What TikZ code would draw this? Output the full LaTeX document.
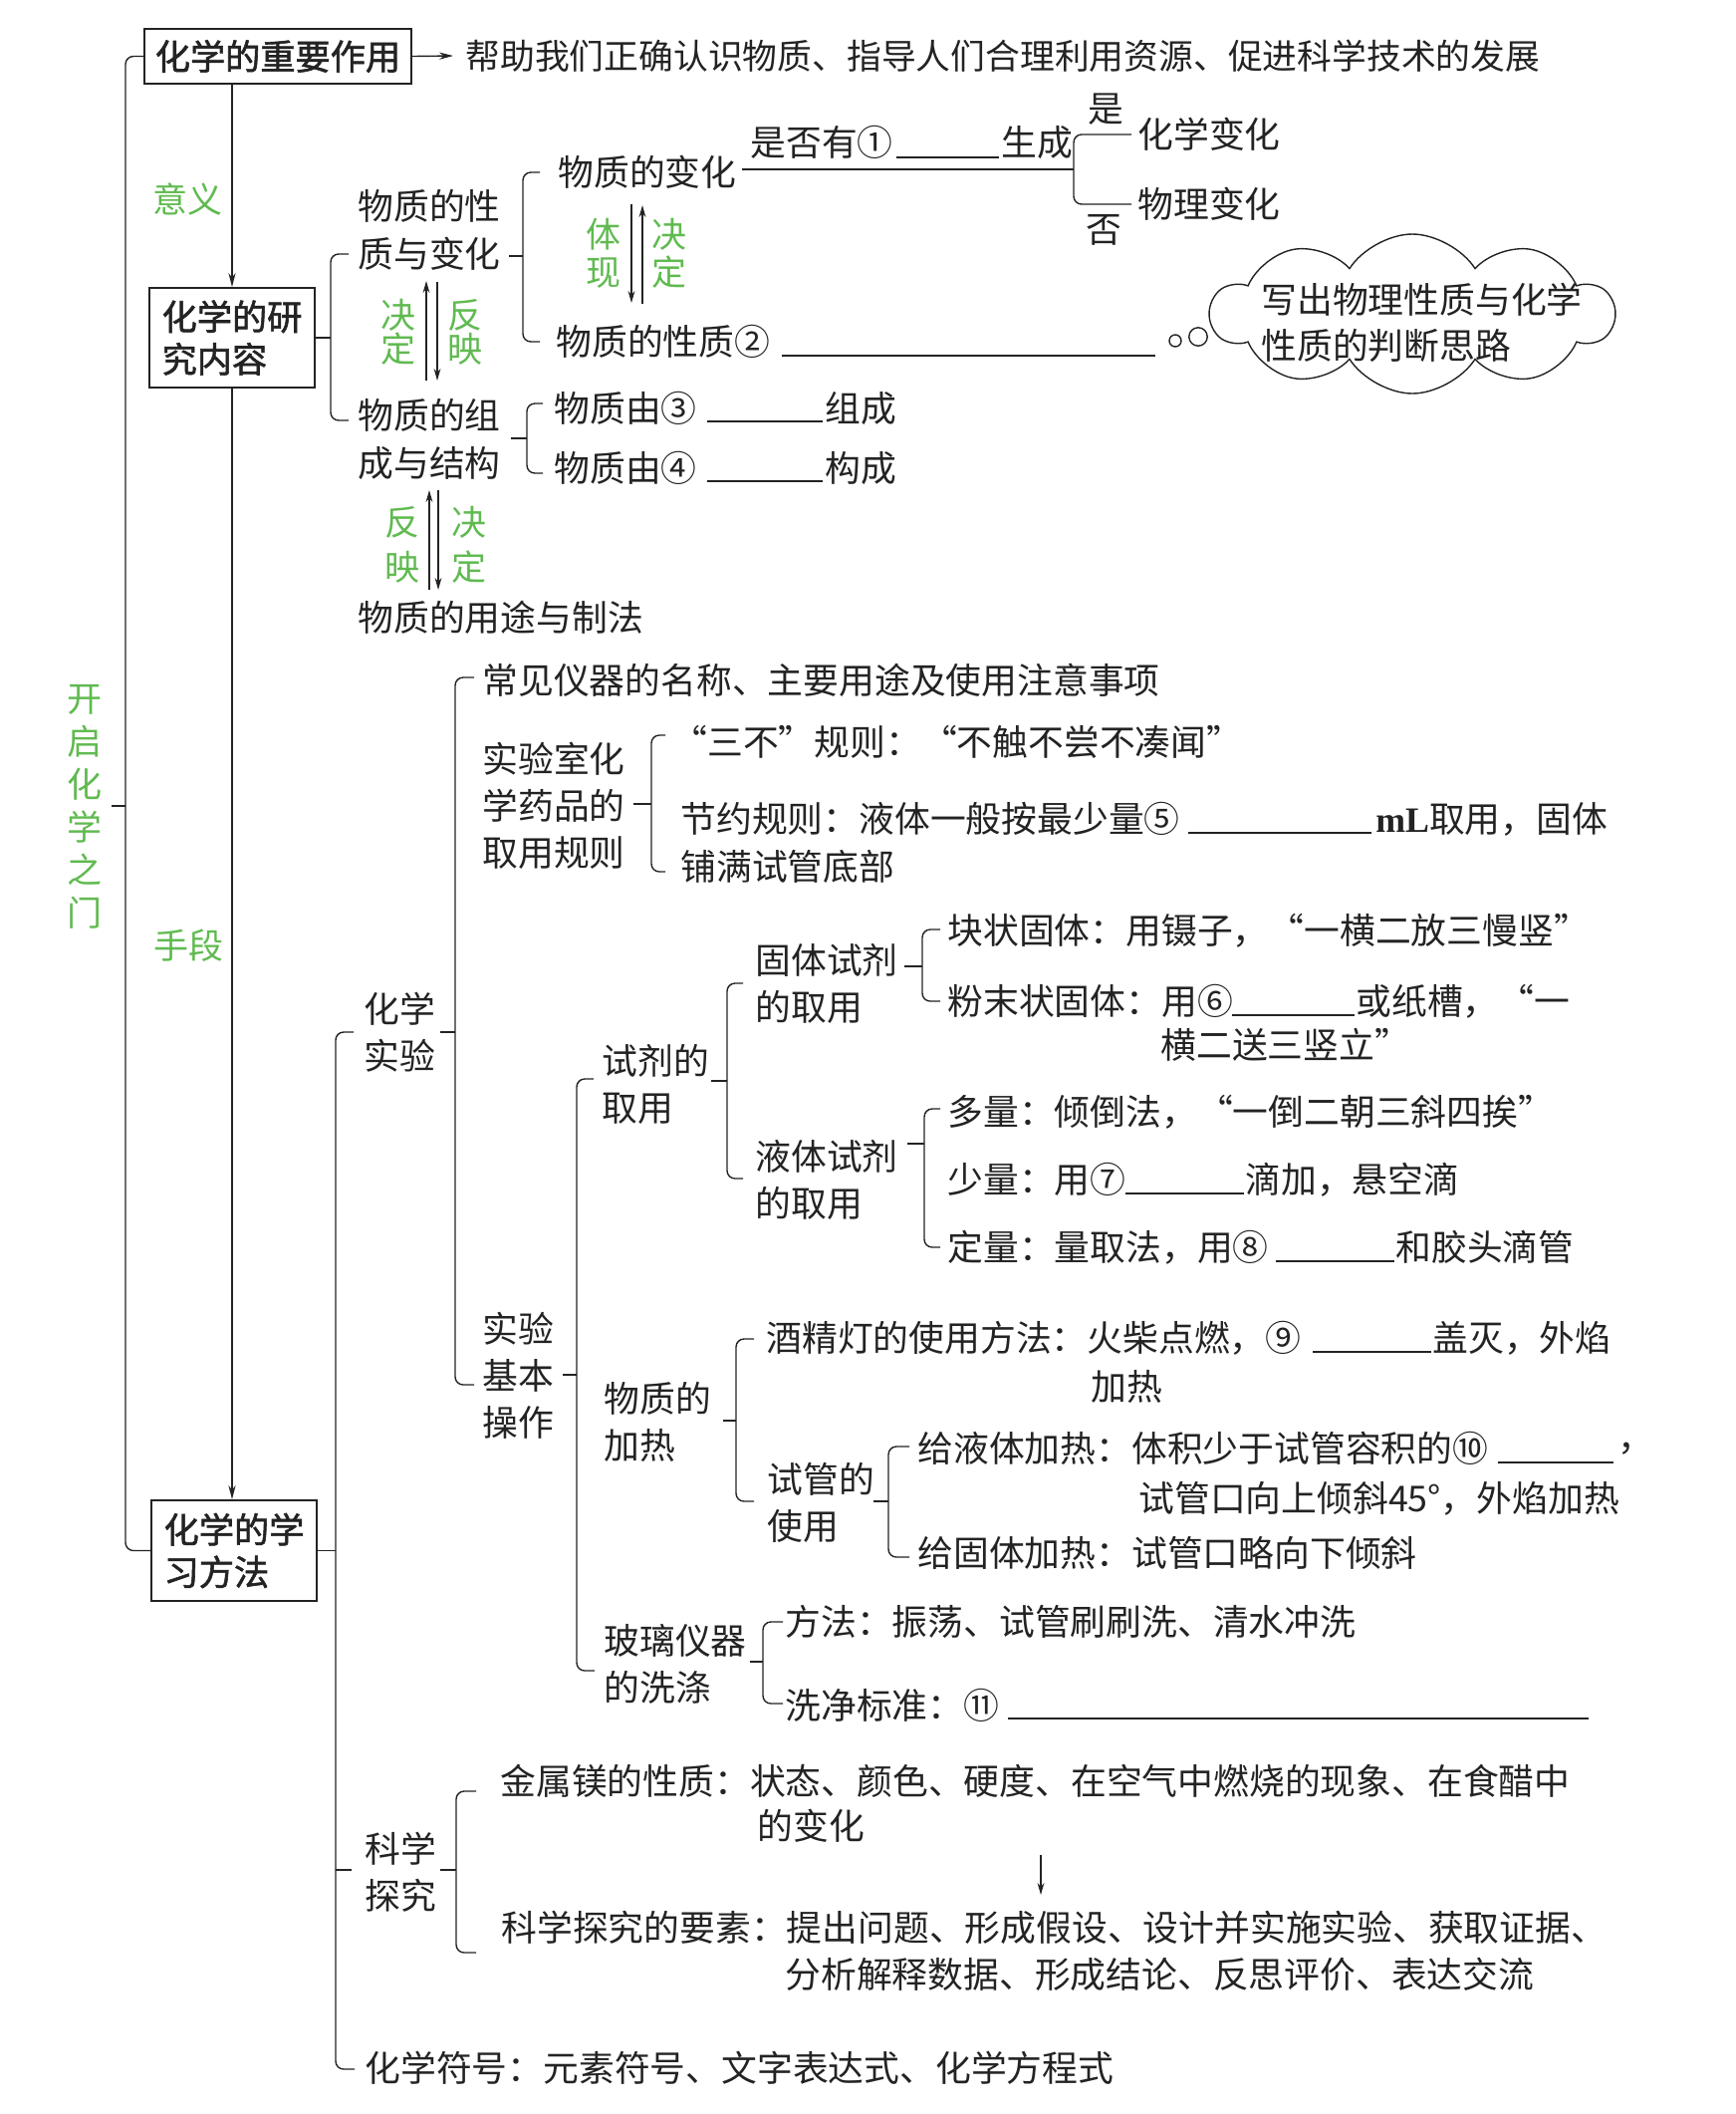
\documentclass[tikz,border=0pt]{standalone}
\usepackage{fontspec}
\setmainfont{Noto Sans CJK SC}
\newfontfamily\latserif{Liberation Serif}
\newfontfamily\boxfont[FakeBold=1.6]{Noto Sans CJK SC}
\usetikzlibrary{arrows.meta,shapes.symbols}
\definecolor{ink}{RGB}{35,35,35}
\definecolor{grn}{RGB}{96,186,80}
\newcommand\fz{\fontsize{17.9pt}{23.5pt}\selectfont}
\newcommand\mybrak[5]{\draw[brk] (#4,#2) -- (#1,#2) -- (#1,#3) -- (#5,#3);}
\newcommand\mytk[3]{\draw[brk] (#1,#3) -- (#2,#3);}
\newcommand\myblank[3]{\draw[blk] (#1,#3) -- (#2,#3);}
\begin{document}
\begin{tikzpicture}[x=0.5pt,y=-0.5pt,
  txt/.style={anchor=west,inner sep=0pt,font=\fz,text=ink,align=left},
  lbl/.style={inner sep=0pt,font=\fz,text=ink},
  gl/.style={inner sep=0pt,text=grn,align=center},
  box/.style={draw=ink,line width=1pt,inner sep=0pt,align=left,text=ink,font=\fontsize{17.6pt}{21.3pt}\selectfont\boxfont},
  brk/.style={draw=ink,line width=0.7pt,rounded corners=4pt},
  blk/.style={draw=ink,line width=0.8pt},
  arr/.style={draw=ink,line width=0.7pt,-{Stealth[length=7pt,width=3.6pt]}},
  sarr/.style={draw=ink,line width=0.7pt,-{Stealth[length=6pt,width=3.4pt]}}]
\useasboundingbox (0,0) rectangle (1743,2122);

% ---------- boxes ----------
\node[box,minimum width=134pt,minimum height=27.5pt] (b1) at (279,56.5) {化学的重要作用};
\node[box,minimum width=83pt,minimum height=50pt] (b2) at (233,339) {化学的研\\究内容};
\node[box,minimum width=83pt,minimum height=50.5pt] (b3) at (235,1556.5) {化学的学\\习方法};

\node[txt,font=\fontsize{17.4pt}{20pt}\selectfont] (top) at (467,56) {帮助我们正确认识物质、指导人们合理利用资源、促进科学技术的发展};
\draw[arr] (b1.east) -- ([xshift=-6pt]top.west);
\draw[arr] (b2.north |- b1.south) -- (b2.north);
\draw[arr] (b2.south) -- (b2.south |- b3.north);

\node[gl,font=\fontsize{17.5pt}{20pt}\selectfont] (yy) at (188,200) {意义};
\node[gl,font=\fontsize{17.5pt}{20pt}\selectfont] (sd) at (189,949) {手段};
\node[gl,font=\fontsize{17.5pt}{21.5pt}\selectfont] (kq) at (84.5,809.5) {开\\启\\化\\学\\之\\门};

% main left bracket
\draw[brk] (b1.west) -| (126,809) |- (b3.west);
\mytk{112}{126}{809}

% ---------- research content ----------
\node[txt,font=\fontsize{17.9pt}{24pt}\selectfont] (xzbh) at (359,231) {物质的性\\质与变化};
\node[txt,font=\fontsize{17.9pt}{24pt}\selectfont] (zcjg) at (359,441) {物质的组\\成与结构};
\node[txt] (ytzf) at (359,620) {物质的用途与制法};
\mybrak{332}{255}{422}{350}{350}
\draw[brk] (b2.east) -- (332,339);

\node[txt] (bh) at (560,173) {物质的变化};
\node[txt] (xz) at (558,343) {物质的性质②};
\myblank{785}{1160}{357}
\mybrak{525}{173}{343}{542}{542}
\mytk{511}{525}{257}

\node[gl,font=\fontsize{17.5pt}{19pt}\selectfont] (tx) at (606,254) {体\\现};
\node[gl,font=\fontsize{17.5pt}{19pt}\selectfont] (jd1) at (672,254) {决\\定};
\draw[sarr] (634,205) -- (634,304);
\draw[sarr] (645,305) -- (645,206);

\node[gl,font=\fontsize{17.5pt}{17pt}\selectfont] (jd2) at (400,333) {决\\定};
\node[gl,font=\fontsize{17.5pt}{17pt}\selectfont] (fy1) at (467,333) {反\\映};
\draw[sarr] (428,382) -- (428,282);
\draw[sarr] (439,283) -- (439,382);

\node[gl,font=\fontsize{17.5pt}{22.5pt}\selectfont] (fy2) at (404,547) {反\\映};
\node[gl,font=\fontsize{17.5pt}{22.5pt}\selectfont] (jd3) at (471,547) {决\\定};
\draw[sarr] (431,592) -- (431,492);
\draw[sarr] (440,492) -- (440,592);

\node[txt] (zc3) at (556,410) {物质由③};
\myblank{710}{826}{423}
\node[txt] (zc3b) at (828,410) {组成};
\node[txt] (zc4) at (556,470) {物质由④};
\myblank{710}{826}{483}
\node[txt] (zc4b) at (828,470) {构成};
\mybrak{529}{405}{475}{545}{545}
\mytk{513}{529}{440}

\node[txt] (sf) at (753,143) {是否有①};
\myblank{900}{1003}{158}
\node[txt] (sc) at (1005,143) {生成};
\draw[brk] (745,170) -- (1078,170);
\mybrak{1078}{135}{205}{1136}{1136}
\node[lbl] (shi) at (1110,110) {是};
\node[lbl] (fou) at (1108,231) {否};
\node[txt] (hx) at (1142,135) {化学变化};
\node[txt] (wl) at (1142,205) {物理变化};

\node[cloud,draw=ink,line width=0.7pt,cloud puffs=10,cloud puff arc=115,aspect=2.4,minimum width=202pt,minimum height=80pt,inner sep=0pt] (cloud) at (1418,315) {};
\node[txt,font=\fontsize{17.9pt}{23pt}\selectfont] (ct) at (1266,324) {写出物理性质与化学\\性质的判断思路};
\draw[ink,line width=0.7pt] (1180,342) circle[radius=3pt];
\draw[ink,line width=0.7pt] (1203,338) circle[radius=4.6pt];

% ---------- learning methods ----------
\mybrak{337}{1036}{2077}{355}{356}
\draw[brk] (b3.east) -- (337,1556.5);
\mytk{337}{353}{1877}

\node[txt] (hxsy) at (365,1036) {化学\\实验};
\mybrak{457}{680}{1390}{476}{476}
\mytk{442}{457}{1036}

\node[txt] (yq) at (484,683) {常见仪器的名称、主要用途及使用注意事项};
\node[txt] (qygz) at (484,809) {实验室化\\学药品的\\取用规则};
\mybrak{654}{738}{875}{668}{668}
\mytk{636}{654}{807}
\node[txt] (sanbu) at (674,745) {“三不”规则：“不触不尝不凑闻”};
\node[txt] (jy) at (683,822) {节约规则：液体一般按最少量⑤};
\myblank{1193}{1377}{836}
\node[txt] (jyb) at (1381,822) {{\latserif\bfseries mL}取用，固体};
\node[txt] (pm) at (683,870) {铺满试管底部};

\node[txt] (jbcz) at (484,1381) {实验\\基本\\操作};
\mybrak{579}{1083}{1677}{596}{597}
\mytk{565}{579}{1380}

\node[txt] (sjqy) at (604,1088) {试剂的\\取用};
\mybrak{730}{987}{1183}{746}{746}
\mytk{714}{730}{1085}

\node[txt] (gt) at (758,987) {固体试剂\\的取用};
\mybrak{926}{933}{1005}{944}{944}
\mytk{908}{926}{970}
\node[txt] (kz) at (951,934) {块状固体：用镊子，“一横二放三慢竖”};
\node[txt] (fm) at (951,1005) {粉末状固体：用⑥};
\myblank{1237}{1360}{1019}
\node[txt] (fmb) at (1361,1005) {或纸槽，“一};
\node[txt] (fmc) at (1165,1049) {横二送三竖立”};

\node[txt] (yt2) at (758,1184) {液体试剂\\的取用};
\mybrak{928}{1113}{1252}{944}{944}
\mytk{911}{928}{1148}
\node[txt] (dl) at (951,1116) {多量：倾倒法，“一倒二朝三斜四挨”};
\node[txt] (sl) at (951,1184) {少量：用⑦};
\myblank{1130}{1249}{1198}
\node[txt] (slb) at (1250,1184) {滴加，悬空滴};
\node[txt] (dq) at (951,1252) {定量：量取法，用⑧};
\myblank{1281}{1400}{1266}
\node[txt] (dqb) at (1401,1252) {和胶头滴管};

\node[txt] (jr) at (606,1427) {物质的\\加热};
\mybrak{739}{1344}{1507}{757}{757}
\mytk{726}{739}{1426}
\node[txt] (jjd) at (769,1343) {酒精灯的使用方法：火柴点燃，⑨};
\myblank{1318}{1437}{1357}
\node[txt] (jjdb) at (1438,1343) {盖灭，外焰};
\node[txt] (jjdc) at (1095,1392) {加热};

\node[txt] (sg) at (770,1508) {试管的\\使用};
\mybrak{892}{1452}{1563}{913}{913}
\mytk{877}{892}{1507}
\node[txt] (yt3) at (921,1454) {给液体加热：体积少于试管容积的⑩};
\myblank{1504}{1620}{1468}
\node[txt] (yt3b) at (1624,1454) {，};
\node[txt] (yt3c) at (1143,1504) {试管口向上倾斜45°，外焰加热};
\node[txt] (gt3) at (921,1559) {给固体加热：试管口略向下倾斜};

\node[txt] (bl) at (606,1670) {玻璃仪器\\的洗涤};
\mybrak{766}{1628}{1710}{786}{786}
\mytk{753}{766}{1668}
\node[txt] (ff) at (788,1628) {方法：振荡、试管刷刷洗、清水冲洗};
\node[txt] (bz) at (788,1712) {洗净标准：⑪};
\myblank{1012}{1595}{1725}

\node[txt] (kxtj) at (366,1879) {科学\\探究};
\mybrak{458}{1798}{1960}{478}{478}
\mytk{442}{458}{1877}
\node[txt] (mg) at (502,1788) {金属镁的性质：状态、颜色、硬度、在空气中燃烧的现象、在食醋中};
\node[txt] (mgb) at (760,1833) {的变化};
\node[txt] (ys) at (503,1935) {科学探究的要素：提出问题、形成假设、设计并实施实验、获取证据、};
\node[txt] (ysb) at (788,1982) {分析解释数据、形成结论、反思评价、表达交流};
\draw[sarr] (mgb.south -| 1045,0) ++(0,12) -- (1045,1902);

\node[txt] (fh) at (366,2076) {化学符号：元素符号、文字表达式、化学方程式};
\end{tikzpicture}
\end{document}
